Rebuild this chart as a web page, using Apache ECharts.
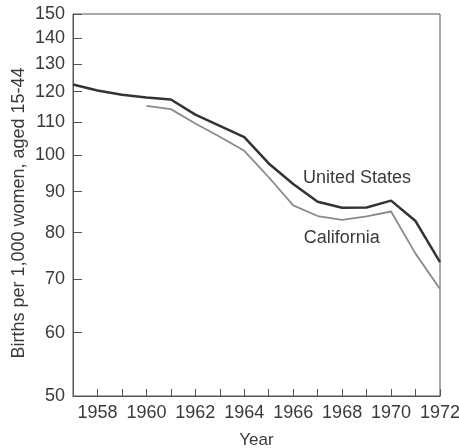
<!DOCTYPE html>
<html>
<head>
<meta charset="utf-8">
<script src="https://cdn.jsdelivr.net/npm/echarts@6/dist/echarts.min.js"></script>
<style>
html,body{margin:0;padding:0;background:#fff;}
#chart{width:459px;height:448px;}
</style>
</head>
<body>
<div id="chart"></div>
<script>
var years = [1957,1958,1959,1960,1961,1962,1963,1964,1965,1966,1967,1968,1969,1970,1971,1972];
var unitedStates = [122.5,120.4,118.9,118.0,117.3,112.3,108.7,105.3,97.6,92.0,87.4,85.9,86.0,87.7,82.7,73.5];
var california = [null,null,null,115.2,114.1,109.5,105.4,101.2,93.8,86.5,83.9,83.0,83.8,85.0,75.3,68.0];
var yTicks = [50,60,70,80,90,100,110,120,130,140,150];
var xLabelYears = [1958,1960,1962,1964,1966,1968,1970,1972];
var seriesNames = ['United States','California'];

function pairs(vals){
  var out = [];
  for (var i = 0; i < years.length; i++) {
    if (vals[i] != null) out.push([years[i], vals[i]]);
  }
  return out;
}

var font = '"Liberation Sans", Arial, Helvetica, sans-serif';
var txt = '#3a3a3a';
var chart = echarts.init(document.getElementById('chart'), null, {renderer:'canvas'});
chart.setOption({
  animation: false,
  backgroundColor: '#ffffff',
  grid: {left: 73, right: 19, top: 14, bottom: 52, show: true, borderColor: '#555', borderWidth: 1,
    containLabel: false, outerBoundsMode: 'none'},
  xAxis: {
    type: 'value', min: 1957, max: 1972, interval: 1,
    name: 'Year', nameLocation: 'middle', nameGap: 36, nameMoveOverlap: false,
    nameTextStyle: {fontFamily: font, fontSize: 17, color: txt},
    axisLine: {show: true, lineStyle: {color: '#555', width: 1}},
    axisTick: {show: true, inside: true, length: 7, lineStyle: {color: '#555'}, customValues: years},
    splitLine: {show: false},
    axisLabel: {
      fontFamily: font, fontSize: 18, color: txt, margin: 8,
      customValues: xLabelYears,
      formatter: function(v){ return String(v); }
    }
  },
  yAxis: {
    type: 'log', logBase: 10, min: 50, max: 150,
    name: 'Births per 1,000 women, aged 15-44', nameLocation: 'middle', nameGap: 45, nameMoveOverlap: false,
    nameTextStyle: {fontFamily: font, fontSize: 18, color: txt, padding: [0, 16, 0, 0]},
    axisLine: {show: true, lineStyle: {color: '#555', width: 1}},
    axisTick: {show: true, inside: true, length: 9, lineStyle: {color: '#555'}, customValues: yTicks},
    splitLine: {show: false},
    axisLabel: {
      fontFamily: font, fontSize: 18, color: txt, margin: 8,
      customValues: yTicks,
      formatter: function(v){ return String(Math.round(v)); }
    }
  },
  series: [
    {
      name: seriesNames[0], type: 'line', data: pairs(unitedStates),
      showSymbol: false, symbol: 'none',
      lineStyle: {color: '#333', width: 2.5}, z: 3,
      markPoint: {
        symbol: 'circle', symbolSize: 0,
        label: {show: true, position: 'inside', align: 'left', verticalAlign: 'middle',
          fontFamily: font, fontSize: 18, color: txt, formatter: seriesNames[0]},
        data: [{coord: [1966.4, 93.6]}]
      }
    },
    {
      name: seriesNames[1], type: 'line', data: pairs(california),
      showSymbol: false, symbol: 'none',
      lineStyle: {color: '#8a8a8a', width: 1.8}, z: 2,
      markPoint: {
        symbol: 'circle', symbolSize: 0,
        label: {show: true, position: 'inside', align: 'left', verticalAlign: 'middle',
          fontFamily: font, fontSize: 18, color: txt, formatter: seriesNames[1]},
        data: [{coord: [1966.43, 78.7]}]
      }
    }
  ]
});
</script>
</body>
</html>
